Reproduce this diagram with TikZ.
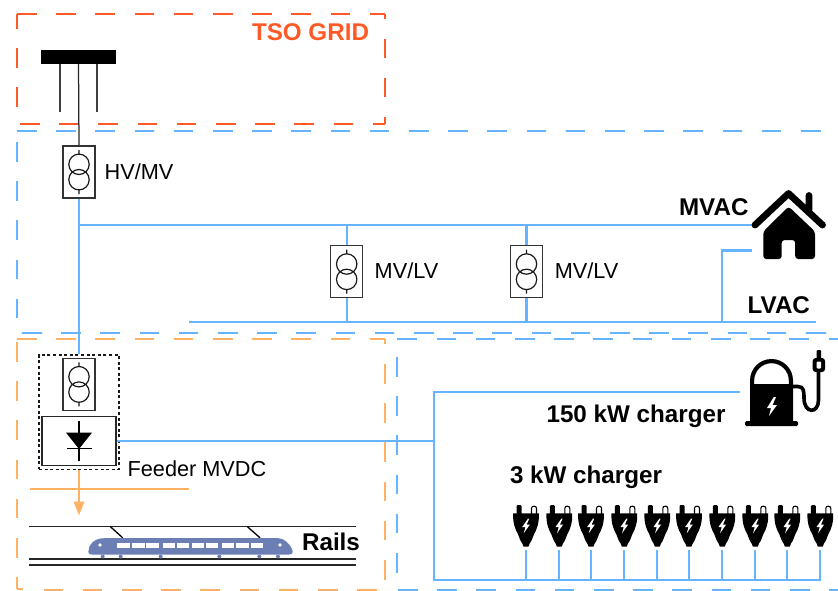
\documentclass[tikz,border=0pt]{standalone}
\usepackage{fontspec}
\setmainfont{Liberation Sans}
\usetikzlibrary{arrows.meta}
\definecolor{tsoc}{HTML}{FF5A26}
\definecolor{bluec}{HTML}{66B3FF}
\definecolor{orac}{HTML}{FFB266}
\definecolor{trainc}{HTML}{6B7FB5}
\tikzset{
  bluedash/.style={bluec,line width=2.1pt,dash pattern=on 19.6pt off 19.6pt},
  oradash/.style={orac,line width=2.1pt,dash pattern=on 19.6pt off 19.6pt},
  tsodash/.style={tsoc,line width=2.1pt,dash pattern=on 19.6pt off 19.6pt},
  bus/.style={bluec,line width=2.2pt},
  xfbox/.style={draw=black!80,line width=1.25pt,fill=white,minimum width=32pt,minimum height=52pt,inner sep=0pt},
  recbox/.style={draw=black!85,line width=1.25pt,fill=white,minimum width=74pt,minimum height=49pt,inner sep=0pt},
  lab/.style={font=\fontsize{21.7}{24}\selectfont,anchor=base,inner sep=0pt},
  blab/.style={font=\fontsize{24.2}{26}\selectfont\bfseries,anchor=base,inner sep=0pt},
  rail/.style={black!85,line width=1.6pt},
  railb/.style={black!85,line width=2.5pt},
  xformer/.pic={
    \draw[black!90,line width=1.2pt] (0,-7.7) circle[radius=10.2pt] (0,7.7) circle[radius=10.2pt]
      (0,-22) -- (0,-17.9) (0,17.9) -- (0,22);
  },
  plug/.pic={
    \fill[black,rounded corners=1pt] (-9.5,0) rectangle (-4.5,10);
    \draw[black,line width=1.1pt] (5.5,9) -- (5.5,3) .. controls (5.5,0.3) and (10.5,0.3) .. (10.5,3) -- (10.5,9);
    \fill[black] (-12.8,8.2) -- (12.8,8.2) .. controls (13.4,17) and (11,24) .. (8,29)
      .. controls (6.4,32) and (6.4,35) .. (3.8,38) -- (2.4,41.5) -- (-2.4,41.5) -- (-3.8,38)
      .. controls (-6.4,35) and (-6.4,32) .. (-8,29) .. controls (-11,24) and (-13.4,17) .. (-12.8,8.2) -- cycle;
    \fill[white] (2,13.5) -- (-3.8,21.8) -- (-0.6,21.8) -- (-2.2,28) -- (3.8,19.4) -- (0.6,19.4) -- (3.2,13.5) -- cycle;
  },
}
\begin{document}
\begin{tikzpicture}[x=1pt,y=-1pt]
\useasboundingbox (0,0) rectangle (838,590);
% dashed frames
\draw[tsodash] (17,14) -- (385,14);
\draw[tsodash,dash phase=14.6pt] (385,14) -- (385,124);
\draw[tsodash] (20,124) -- (385,124);
\draw[tsodash] (17,107) -- (17,14);
\draw[bluedash] (17,131) -- (838,131);
\draw[bluedash] (17,142) -- (17,320);
\draw[bluedash] (22,333) -- (838,333);
\draw[oradash] (17,339.2) -- (385,339.2);
\draw[oradash] (385,338.5) -- (385,344);
\draw[oradash] (43.5,589.8) -- (380,589.8);
\draw[oradash] (17,589) -- (23,589);
\draw[oradash] (17,342) -- (17,589);
\draw[oradash] (385,364) -- (385,582);
\draw[bluedash] (397.3,339) -- (838,339);
\draw[bluedash] (397.3,357) -- (397.3,575);
\draw[bluedash] (398,590) -- (838,590);
% TSO bus
\node[fill=black,minimum width=75pt,minimum height=13.5pt,inner sep=0pt] (bar) at (78.5,56.8) {};
\coordinate (s1) at (60,112);
\coordinate (s3) at (97,112);
\draw[black!75,line width=1.25pt] (bar.south -| s1) -- (s1);
\draw[black!75,line width=1.25pt] (bar.south -| s3) -- (s3);
% transformers
\node[xfbox] (t1) at (79,172) {};
\pic at (t1.center) {xformer};
\node[xfbox] (t2) at (346.7,271.7) {};
\pic at (t2.center) {xformer};
\node[xfbox] (t3) at (526.5,271.7) {};
\pic at (t3.center) {xformer};
\node[draw=black!90,line width=1.2pt,dash pattern=on 3pt off 2.6pt,minimum width=80pt,minimum height=114.5pt,inner sep=0pt] (feed) at (79,412.2) {};
\node[xfbox] (t4) at (79,384.4) {};
\pic at (t4.center) {xformer};
\node[recbox] (rec) at (79,440.8) {};
\coordinate (d1) at (79,421);
\coordinate (d2) at (79,461);
\draw[black,line width=1.2pt] (d1) -- (d2) (66.8,448.6) -- (92,448.6);
\fill[black] (66,432.6) -- (92,432.6) -- (79,449) -- cycle;
\draw[black!85,line width=1.25pt] (bar.south) -- (t1.north);
% buses
\coordinate (mvw) at (t1.south |- 0,225);
\coordinate (mve) at (752,225);
\coordinate (lvw) at (189,322);
\coordinate (lve) at (816,322);
\coordinate (lvt) at (721.7,322);
\coordinate (lvu) at (721.7,250.5);
\coordinate (lvh) at (752,250.5);
\draw[bus] (t1.south) -- (feed.north);
\draw[bus] (mvw) -- (mve);
\draw[bus] (lvw) -- (lve);
\draw[bus] (t2.north |- mve) -- (t2.north);
\draw[bus] (t2.south) -- (t2.south |- lve);
\draw[bus] (t3.north |- mve) -- (t3.north);
\draw[bus] (t3.south) -- (t3.south |- lve);
\draw[bus] (lvt) -- (lvu) -- (lvh);
% DC side
\coordinate (dcj) at (434,441);
\coordinate (dct) at (434,391.8);
\coordinate (dcc) at (740,391.8);
\coordinate (dcb) at (434,580.3);
\coordinate (dce) at (821.2,580.3);
\draw[bus] (rec.east |- dcj) -- (dcj);
\draw[bus] (dcc) -- (dct) -- (dcb) -- (dce);
% plugs
\foreach \n/\x in {1/526,2/559.3,3/591,4/624.3,5/657.3,6/689,7/722.3,8/755.3,9/787.3,10/820.3}{
  \pic at (\x,505.2) {plug};
  \coordinate (p\n) at (\x,550);
  \draw[bus] (p\n) -- (\x,580.3);
}
% feeder
\coordinate (ow) at (30,489);
\coordinate (oe) at (189,489);
\coordinate (oa) at (79,515.5);
\draw[orac,line width=2.2pt] (ow) -- (oe);
\draw[orac,line width=2.2pt,-{Triangle[width=10.5pt,length=14pt]}] (feed.south) -- (oa);
% rails
\coordinate (ra) at (29,526.3); \coordinate (rb) at (355.5,526.3);
\draw[rail] (ra) -- (rb);
\draw[railb] (29,559) -- (355.5,559);
\draw[railb] (29,565) -- (355.5,565);
\draw[black,line width=1.3pt] (110,526.3) -- (122.7,537.8) (247,526.3) -- (260,537.8);
% train
\fill[trainc] (88.3,552) .. controls (88.3,545) and (94,538.2) .. (104,538.2) -- (278,538.2)
  .. controls (286,538.2) and (292.7,548) .. (292.7,552) .. controls (292.7,554) and (291,554.5) .. (289,554.5) -- (92,554.5)
  .. controls (90,554.5) and (88.3,554) .. (88.3,552) -- cycle;
\foreach \x in {102.7,120.7,160.7,219.3,259.3,278}{
  \fill[trainc] (\x,556.5) circle[radius=2pt];
}
\foreach \a/\b in {117.3/130,132/144.7,146.3/158.7,162.7/175.3,177/189.3,191.7/204,205.7/218.3,221.7/234.3,236.3/248.7,250.7/262.7}{
  \fill[white] (\a,542.8) rectangle (\b,548.4);
}
\fill[white] (100,545) circle[radius=1.8pt] (280,545) circle[radius=1.8pt];
% house
\draw[black,line width=6.8pt,line cap=round,line join=round] (755,225) -- (788.5,193.5) -- (822.5,225) (809,195.5) -- (809,210);
\fill[black,rounded corners=3pt] (763.3,231.5) -- (788.6,206.5) -- (815,231.5) -- (815,259) -- (795.2,259) -- (795.2,240) -- (781.7,240) -- (781.7,259) -- (763.3,259) -- cycle;
% charger
\fill[black,rounded corners=1.5pt] (745,421) rectangle (798,426);
\draw[black,line width=4.2pt] (752.1,421) -- (752.1,380.5) arc[start angle=180,end angle=0,radius=19.4pt] -- (790.9,421);
\fill[black] (750,384) rectangle (793,421);
\fill[white] (773.8,397) -- (767,408) -- (771,408) -- (769,416) -- (776.8,405.2) -- (772.5,405.2) -- (776,397) -- cycle;
\draw[black,line width=3.6pt] (792,386.5) -- (798,386.5) .. controls (804,386.5) and (804,392) .. (804,398)
  .. controls (804,414) and (818.5,414) .. (818.5,400) -- (818.5,370);
\fill[black,rounded corners=3pt] (812.7,358) rectangle (825,372);
\fill[white,rounded corners=1pt] (816.6,361.5) rectangle (821.2,368.5);
\fill[black,rounded corners=1pt] (816.6,350) rectangle (821.2,360);
% labels
\node[blab,text=tsoc] (ltso) at (310.5,40) {TSO GRID};
\node[lab] (lhv) at (139,179.3) {HV/MV};
\node[lab] (lmv1) at (406.5,278.3) {MV/LV};
\node[lab] (lmv2) at (586.5,278.3) {MV/LV};
\node[blab] (lmvac) at (713.8,215) {MVAC};
\node[blab] (llvac) at (778.8,313.3) {LVAC};
\node[blab] (l150) at (636,422) {150 kW charger};
\node[blab] (l3) at (586,483) {3 kW charger};
\node[lab] (lfeed) at (197,476.7) {Feeder MVDC};
\node[blab] (lrails) at (331,550) {Rails};
\end{tikzpicture}
\end{document}
